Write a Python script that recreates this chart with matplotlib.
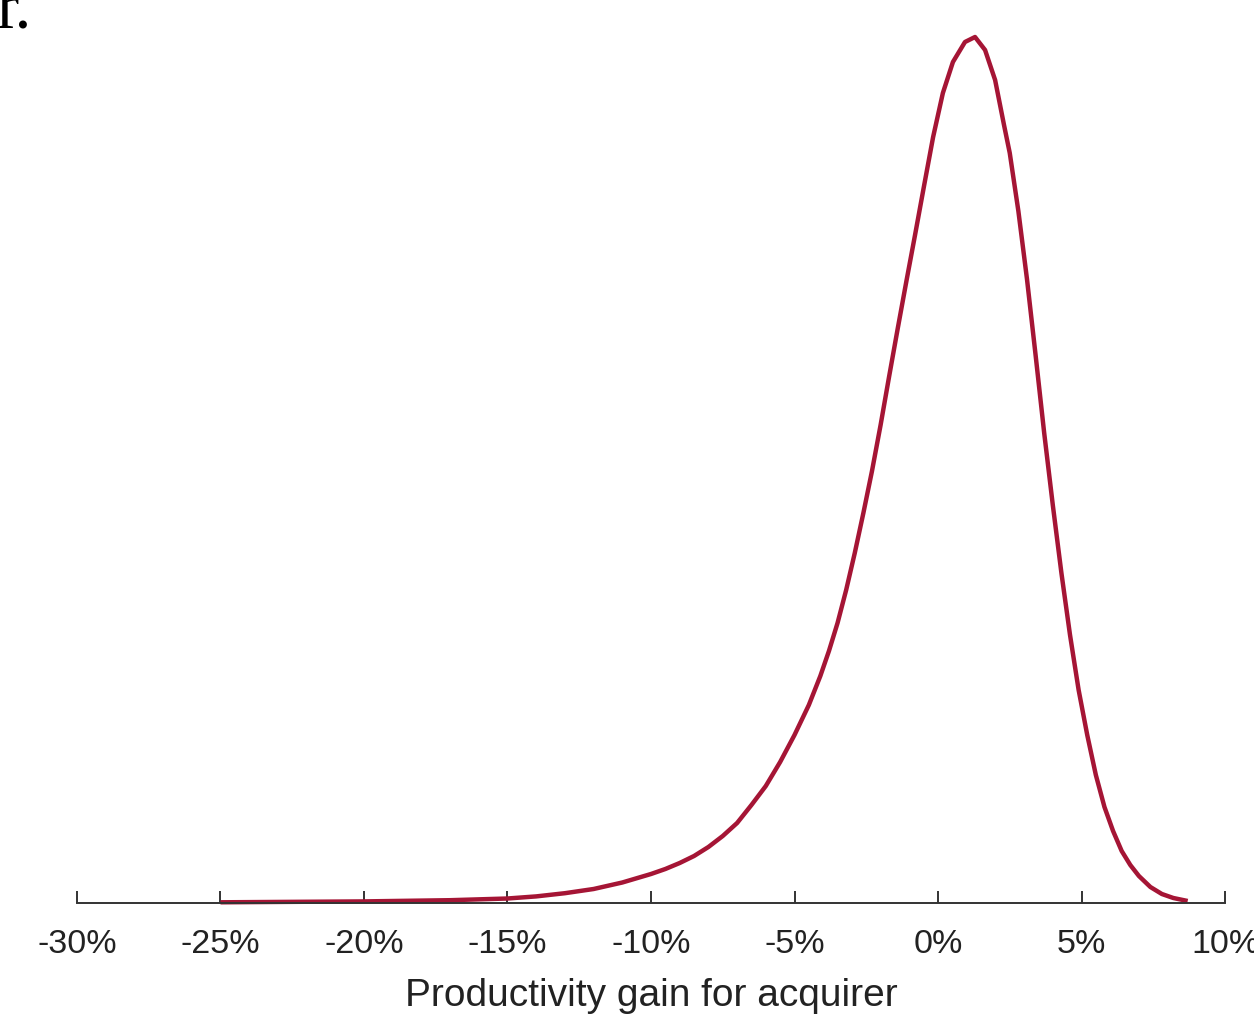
import numpy as np
import matplotlib.pyplot as plt

# productivity gain (%) and estimated density (arbitrary units)
gain = [-25.0, -20.0, -17.0, -15.0, -14.0, -13.0, -12.0, -11.0, -10.0, -9.5,
        -9.0, -8.5, -8.0, -7.5, -7.0, -6.5, -6.0, -5.5, -5.0, -4.5,
        -4.1, -3.8, -3.5, -3.2, -2.9, -2.6, -2.3, -2.0, -1.7, -1.4,
        -1.1, -0.8, -0.5, -0.17, 0.17, 0.52, 0.94, 1.29, 1.64, 1.99,
        2.3, 2.5, 2.8, 3.1, 3.4, 3.7, 4.0, 4.3, 4.6, 4.9,
        5.2, 5.5, 5.8, 6.1, 6.4, 6.7, 7.0, 7.4, 7.8, 8.2,
        8.7]
density = [0.0007, 0.0016, 0.0028, 0.0045, 0.0066, 0.0098, 0.014, 0.0205, 0.029, 0.034,
           0.040, 0.047, 0.056, 0.067, 0.080, 0.098, 0.117, 0.141, 0.168, 0.198,
           0.227, 0.252, 0.280, 0.313, 0.350, 0.390, 0.432, 0.478, 0.527, 0.575,
           0.622, 0.668, 0.715, 0.766, 0.810, 0.841, 0.861, 0.866, 0.853, 0.823,
           0.778, 0.750, 0.692, 0.624, 0.548, 0.470, 0.398, 0.330, 0.268, 0.213,
           0.168, 0.128, 0.096, 0.072, 0.052, 0.038, 0.027, 0.016, 0.009, 0.005,
           0.002]
tick_vals = [-30, -25, -20, -15, -10, -5, 0, 5, 10]
tick_labels = [f"{t}%" for t in tick_vals]

W, H = 1254, 1017
fig = plt.figure(figsize=(W / 100, H / 100), dpi=100)
ax = fig.add_axes([77 / W, (H - 903) / H, (1225 - 77) / W, (903 - 20) / H])

ax.plot(gain, density, color="#A51535", lw=3.2, solid_capstyle="butt",
        solid_joinstyle="round", clip_on=False)

ax.set_xlim(-30, 10)
ax.set_ylim(0, 0.883)
for s in ["top", "right", "left"]:
    ax.spines[s].set_visible(False)
ax.spines["bottom"].set_color("#333333")
ax.spines["bottom"].set_linewidth(1.4)
ax.set_yticks([])
ax.set_xticks(tick_vals)
ax.set_xticklabels(tick_labels, family="Liberation Sans", color="#222222")
ax.tick_params(axis="x", direction="in", length=9, width=1.4, color="#333333",
               labelsize=24.5, pad=19)
ax.set_xlabel("Productivity gain for acquirer", family="Liberation Sans",
              fontsize=28, color="#222222", labelpad=13)

# leftover of caption text cut off at the top-left edge
fig.text(-3 / W, 1 - 28 / H, "r.", family="Liberation Serif", fontsize=48,
         color="black", va="baseline", ha="left")

fig.savefig("out.png", dpi=100)
